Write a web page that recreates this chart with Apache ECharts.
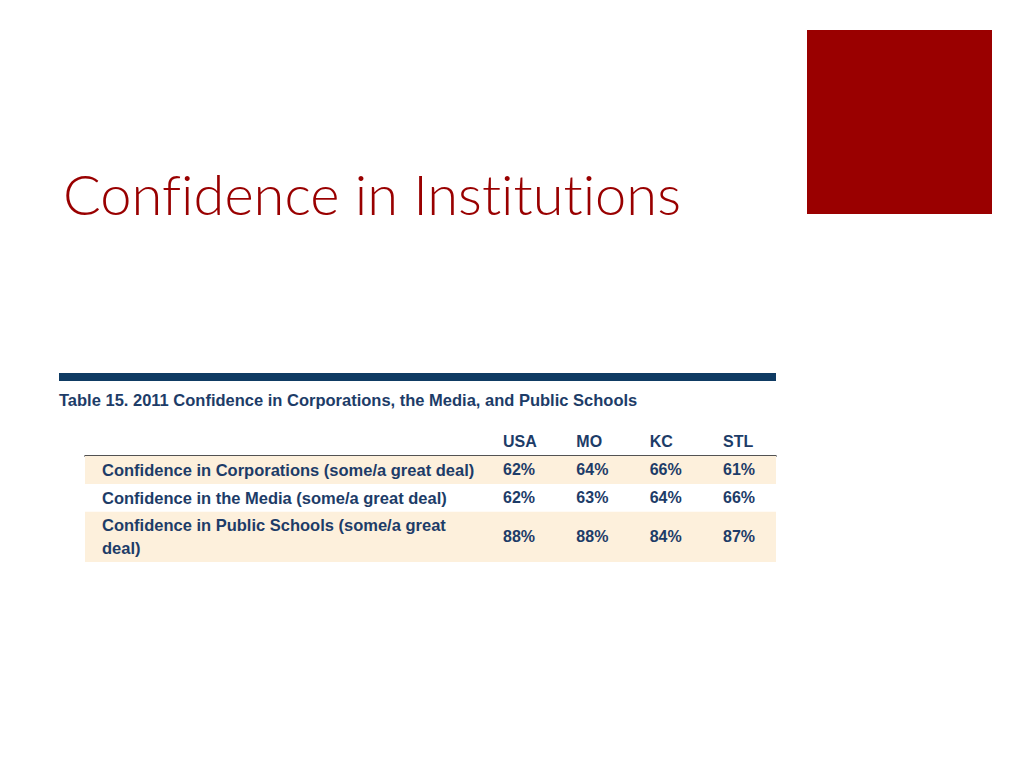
<!DOCTYPE html>
<html><head><meta charset="utf-8">
<script src="https://cdn.jsdelivr.net/npm/echarts@6/dist/echarts.min.js"></script>
<style>
html,body{margin:0;padding:0;background:#fff}
#main{width:1024px;height:768px}
#main svg text{font-variant-ligatures:none !important;}
</style>
</head><body><div id="main"></div>
<script>
// ---- data ----
const slideTitle = 'Confidence in Institutions';
const tableCaption = 'Table 15. 2011 Confidence in Corporations, the Media, and Public Schools';
const columns = ['USA', 'MO', 'KC', 'STL'];
const rowLabels = [
  'Confidence in Corporations (some/a great deal)',
  'Confidence in the Media (some/a great deal)',
  'Confidence in Public Schools (some/a great\ndeal)'
];
const usa = [62, 62, 88];
const mo  = [64, 63, 88];
const kc  = [66, 64, 84];
const stl = [61, 66, 87];

// ---- layout helpers ----
const seriesByCol = [usa, mo, kc, stl];
const NAVY = '#1d3c68';
const FONT = '"Liberation Sans", Arial, sans-serif';
const rowWeight = rowLabels.map(l => 1 + 0.8 * (l.split('\n').length - 1));
const rowStart = [], rowEnd = [];
let acc = 0;
rowWeight.forEach((w) => { rowStart.push(acc); acc += w; rowEnd.push(acc); });
const total = acc;

const bgData = rowLabels.map((l, i) => [i, rowStart[i], rowEnd[i]]);
const cellData = [];
seriesByCol.forEach((vals, c) => vals.forEach((v, r) => cellData.push([c, (rowStart[r] + rowEnd[r]) / 2, v])));

const chart = echarts.init(document.getElementById('main'), null, { renderer: 'svg' });
chart.setOption({
  backgroundColor: '#ffffff',
  animation: false,
  grid: [
    { left: 85, right: 248, top: 456, bottom: 206 },
    { left: 466.33, right: 264.33, top: 456, bottom: 206 }
  ],
  xAxis: [
    { type: 'value', gridIndex: 0, min: 0, max: 1, position: 'top',
      axisLine: { show: true, onZero: false, lineStyle: { color: '#1a1a1a', width: 1.5 } },
      axisTick: { show: false }, axisLabel: { show: false }, splitLine: { show: false } },
    { type: 'category', gridIndex: 1, data: columns, position: 'top',
      axisLine: { show: false }, axisTick: { show: false }, splitLine: { show: false },
      axisLabel: { show: true, align: 'left', margin: 7, color: NAVY, fontFamily: FONT, fontWeight: 'bold', fontSize: 16 } }
  ],
  yAxis: [
    { type: 'value', gridIndex: 0, min: 0, max: total, inverse: true, show: false },
    { type: 'value', gridIndex: 1, min: 0, max: total, inverse: true, show: false }
  ],
  graphic: [
    { type: 'rect', shape: { x: 807, y: 30, width: 185, height: 184 }, style: { fill: '#9a0000' } },
    { type: 'text', x: 63, y: 193, style: { text: slideTitle, fill: '#990000', font: '300 56px Lato, "Noto Sans", sans-serif', textVerticalAlign: 'middle' } },
    { type: 'rect', shape: { x: 59, y: 373, width: 717, height: 8 }, style: { fill: '#0f3b63' } },
    { type: 'text', x: 59, y: 400, style: { text: tableCaption, fill: NAVY, font: 'bold 16.5px ' + FONT, textVerticalAlign: 'middle' } }
  ],
  series: [
    {
      type: 'custom', xAxisIndex: 0, yAxisIndex: 0, data: bgData, z: 1,
      renderItem: function (params, api) {
        const r = api.value(0);
        const p0 = api.coord([0, api.value(1)]);
        const p1 = api.coord([1, api.value(2)]);
        return {
          type: 'group', children: [
            { type: 'rect', shape: { x: p0[0], y: p0[1], width: p1[0] - p0[0], height: p1[1] - p0[1] },
              style: { fill: r % 2 === 0 ? '#fdf0dc' : '#ffffff' } },
            { type: 'text', x: p0[0] + 17, y: (p0[1] + p1[1]) / 2,
              style: { text: rowLabels[r], fill: NAVY, font: 'bold 16.5px ' + FONT, textVerticalAlign: 'middle', lineHeight: 23 } }
          ]
        };
      }
    },
    {
      type: 'custom', xAxisIndex: 1, yAxisIndex: 1, data: cellData, z: 3,
      renderItem: function (params, api) {
        const p = api.coord([api.value(0), api.value(1)]);
        return { type: 'text', x: p[0], y: p[1],
          style: { text: api.value(2) + '%', fill: NAVY, font: 'bold 16px ' + FONT, textAlign: 'left', textVerticalAlign: 'middle' } };
      }
    }
  ]
});
</script></body></html>
